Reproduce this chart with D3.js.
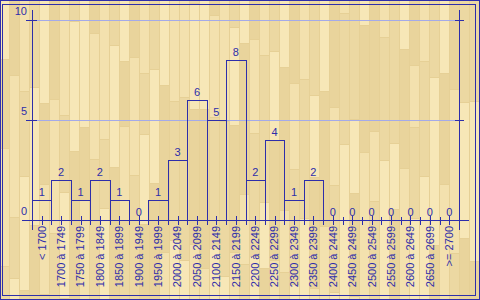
<!DOCTYPE html>
<html>
<head>
<meta charset="utf-8">
<script src="https://cdn.jsdelivr.net/npm/d3@7"></script>
<style>
  html, body { margin: 0; padding: 0; background: #efdca8; }
  svg { display: block; }
</style>
</head>
<body>
<svg id="chart" width="480" height="300"></svg>
<script>
// data
let categories = ["< 1700", "1700 à 1749", "1750 à 1799", "1800 à 1849", "1850 à 1899",
  "1900 à 1949", "1950 à 1999", "2000 à 2049", "2050 à 2099", "2100 à 2149",
  "2150 à 2199", "2200 à 2249", "2250 à 2299", "2300 à 2349", "2350 à 2399",
  "2400 à 2449", "2450 à 2499", "2500 à 2549", "2550 à 2599", "2600 à 2649",
  "2650 à 2699", ">= 2700"];
let counts = [1, 2, 1, 2, 1, 0, 1, 3, 6, 5, 8, 2, 4, 1, 2, 0, 0, 0, 0, 0, 0, 0];
let yTicks = [0, 5, 10];

let width = 480, height = 300;
let plotLeft = 32, plotRight = 459, plotTop = 20, plotBottom = 220;
let ink = "#2e2eaa";
let font = "'Liberation Sans', Arial, sans-serif";

let svg = d3.select("#chart");

// wood background: boards in columns
let bg = svg.append("g");
bg.append("rect").attr("width", width).attr("height", height).attr("fill", "#e6d096");
let boardW = 10;
for (let c = 0; c * boardW < width; c++) {
    let by = -((c * 37) % 90);
    let k = 0;
    while (by < height) {
        let len = 60 + ((c * 53 + k * 29) % 110);
        let shade = ((c * 7 + k * 3) % 4);
        let col = ["#f7e7b7", "#ecd8a2", "#f3e1ae", "#e9d49c"][shade];
        bg.append("rect")
            .attr("x", c * boardW)
            .attr("y", by)
            .attr("width", boardW - 1)
            .attr("height", len - 1)
            .attr("fill", col);
        by += len;
        k++;
    }
}

// frame
svg.append("rect")
    .attr("x", 0.5).attr("y", 0.5)
    .attr("width", width - 1).attr("height", height - 1)
    .attr("fill", "none").attr("stroke", ink);
svg.append("rect")
    .attr("x", 2.5).attr("y", 4.5)
    .attr("width", 473).attr("height", 291)
    .attr("fill", "none").attr("stroke", ink);

// scales
let x = d3.scaleBand()
    .domain(categories)
    .range([plotLeft, plotRight])
    .padding(0);

let y = d3.scaleLinear()
    .domain([0, 10])
    .range([plotBottom, plotTop]);

// gridlines
svg.append("g")
    .selectAll("line")
    .data(yTicks.filter(d => d > 0))
    .enter().append("line")
    .attr("x1", plotLeft).attr("x2", plotRight)
    .attr("y1", d => Math.round(y(d)) + 0.5)
    .attr("y2", d => Math.round(y(d)) + 0.5)
    .attr("stroke", "#a4aae8")
    .attr("stroke-width", 1);

// bars
svg.append("g")
    .selectAll("rect")
    .data(counts)
    .enter().append("rect")
    .attr("x", (d, i) => Math.round(x(categories[i])) + 0.5)
    .attr("y", d => Math.round(y(d)) + 0.5)
    .attr("width", (d, i) => Math.round(x(categories[i]) + x.bandwidth()) - Math.round(x(categories[i])))
    .attr("height", d => Math.round(y(0)) - Math.round(y(d)))
    .attr("fill", "none")
    .attr("stroke", ink)
    .attr("stroke-width", 1);

// value labels
svg.append("g")
    .selectAll("text")
    .data(counts)
    .enter().append("text")
    .attr("x", (d, i) => x(categories[i]) + x.bandwidth() / 2)
    .attr("y", d => y(d) - 4)
    .attr("text-anchor", "middle")
    .style("font", "11px " + font)
    .attr("fill", ink)
    .text(d => d);

// axes lines
let axes = svg.append("g").attr("stroke", ink).attr("stroke-width", 1);
axes.append("line").attr("x1", plotLeft + 0.5).attr("x2", plotLeft + 0.5).attr("y1", 10).attr("y2", 230);
axes.append("line").attr("x1", plotRight + 0.5).attr("x2", plotRight + 0.5).attr("y1", 10).attr("y2", 230);
axes.append("line").attr("x1", 22).attr("x2", 469).attr("y1", plotBottom + 0.5).attr("y2", plotBottom + 0.5);

// y ticks left and right
yTicks.filter(d => d > 0).forEach(function(d) {
    let yy = Math.round(y(d)) + 0.5;
    axes.append("line").attr("x1", plotLeft - 6).attr("x2", plotLeft + 5).attr("y1", yy).attr("y2", yy);
    axes.append("line").attr("x1", plotRight - 4).attr("x2", plotRight + 5).attr("y1", yy).attr("y2", yy);
});

// x ticks: category centres and boundaries
categories.forEach(function(c, i) {
    let cx = Math.round(x(c) + x.bandwidth() / 2) + 0.5;
    axes.append("line").attr("x1", cx).attr("x2", cx).attr("y1", plotBottom - 4).attr("y2", plotBottom + 5);
    if (i > 0) {
        let bx = Math.round(x(c)) + 0.5;
        axes.append("line").attr("x1", bx).attr("x2", bx).attr("y1", plotBottom - 3).attr("y2", plotBottom + 5);
    }
});

// y labels
svg.append("g")
    .selectAll("text")
    .data(yTicks)
    .enter().append("text")
    .attr("x", 27)
    .attr("y", d => y(d) - 5)
    .attr("text-anchor", "end")
    .style("font", "11px " + font)
    .attr("fill", ink)
    .text(d => d);

// x labels, rotated
svg.append("g")
    .selectAll("text")
    .data(categories)
    .enter().append("text")
    .attr("transform", d => "translate(" + (x(d) + x.bandwidth() / 2) + "," + (plotBottom + 6) + ") rotate(-90)")
    .attr("dy", "0.35em")
    .attr("text-anchor", "end")
    .style("font", "11px " + font)
    .attr("fill", ink)
    .text(d => d);
</script>
</body>
</html>
